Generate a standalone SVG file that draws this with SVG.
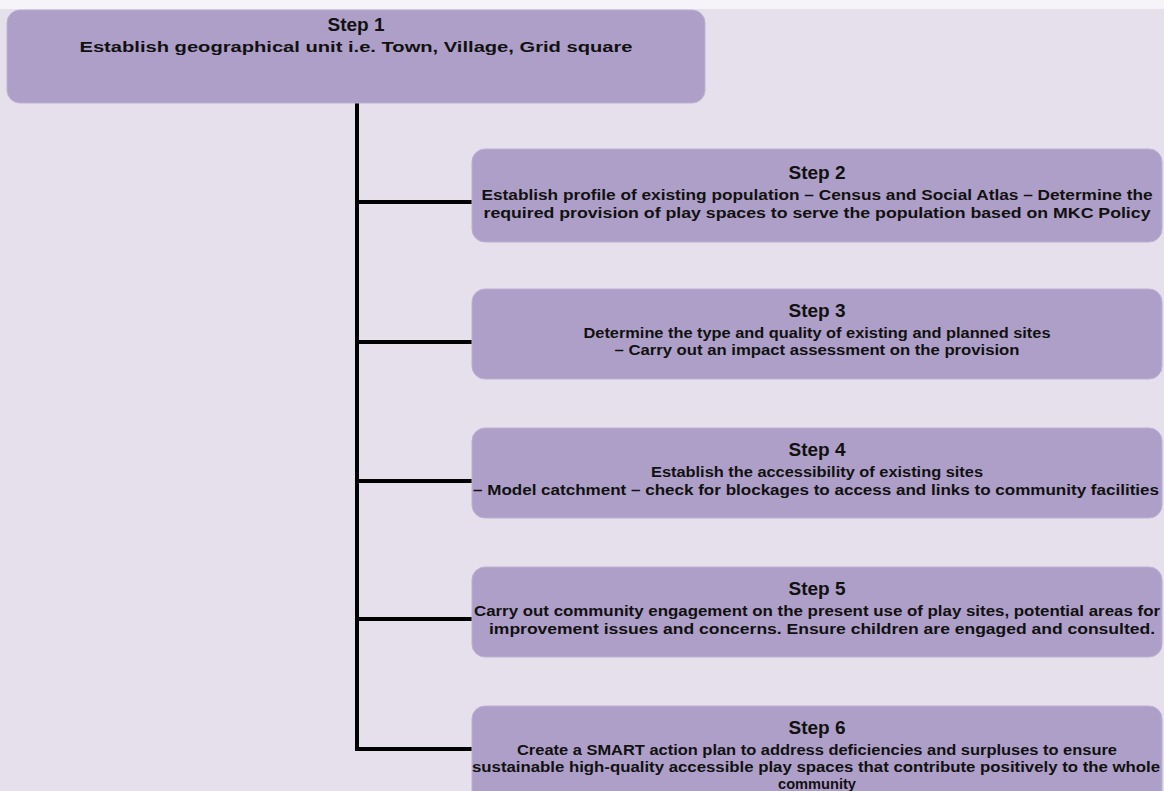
<svg xmlns="http://www.w3.org/2000/svg" width="1164" height="791" viewBox="0 0 1164 791">
<style>
.box{fill:#ae9fc8;stroke:#bcb0d2;stroke-width:1}
.t{font-family:"Liberation Sans",Arial,sans-serif;font-weight:bold;font-size:19px;fill:#111;text-anchor:middle}
.b{font-family:"Liberation Sans",Arial,sans-serif;font-weight:bold;font-size:14px;fill:#111;text-anchor:middle}
.c{fill:none;stroke:#000;stroke-width:4}
</style>
<rect x="0" y="0" width="1164" height="791" fill="#e5e0ec"/>
<rect x="0" y="0" width="1164" height="9" fill="#f6f4f8"/>
<g id="connectors">
<path class="c" d="M357 102 V751"/>
<path class="c" d="M355 202 H473"/>
<path class="c" d="M355 342 H473"/>
<path class="c" d="M355 481 H473"/>
<path class="c" d="M355 619 H473"/>
<path class="c" d="M355 749 H473"/>
</g>
<g id="step1">
<rect class="box" x="7" y="10" width="698" height="93" rx="13"/>
<text class="t" x="356" y="31">Step 1</text>
<text class="b" x="356" y="52" font-size="16" textLength="553" lengthAdjust="spacingAndGlyphs">Establish geographical unit i.e. Town, Village, Grid square</text>
</g>
<g id="step2">
<rect class="box" x="472" y="149" width="690" height="93" rx="13"/>
<text class="t" x="817" y="179">Step 2</text>
<text class="b" x="817" y="200" textLength="671" lengthAdjust="spacingAndGlyphs">Establish profile of existing population – Census and Social Atlas – Determine the</text>
<text class="b" x="817" y="218" textLength="667" lengthAdjust="spacingAndGlyphs">required provision of play spaces to serve the population based on MKC Policy</text>
</g>
<g id="step3">
<rect class="box" x="472" y="289" width="690" height="90" rx="13"/>
<text class="t" x="817" y="317">Step 3</text>
<text class="b" x="817" y="338" textLength="467" lengthAdjust="spacingAndGlyphs">Determine the type and quality of existing and planned sites</text>
<text class="b" x="817" y="355" textLength="405" lengthAdjust="spacingAndGlyphs">– Carry out an impact assessment on the provision</text>
</g>
<g id="step4">
<rect class="box" x="472" y="428" width="690" height="90" rx="13"/>
<text class="t" x="817" y="456">Step 4</text>
<text class="b" x="817" y="477" textLength="332" lengthAdjust="spacingAndGlyphs">Establish the accessibility of existing sites</text>
<text class="b" x="816" y="495" textLength="686" lengthAdjust="spacingAndGlyphs">– Model catchment – check for blockages to access and links to community facilities</text>
</g>
<g id="step5">
<rect class="box" x="472" y="567" width="690" height="90" rx="13"/>
<text class="t" x="817" y="595">Step 5</text>
<text class="b" x="817" y="616" textLength="686" lengthAdjust="spacingAndGlyphs">Carry out community engagement on the present use of play sites, potential areas for</text>
<text class="b" x="822" y="634" textLength="666" lengthAdjust="spacingAndGlyphs">improvement issues and concerns. Ensure children are engaged and consulted.</text>
</g>
<g id="step6">
<rect class="box" x="472" y="706" width="690" height="100" rx="13"/>
<text class="t" x="817" y="734">Step 6</text>
<text class="b" x="817" y="755" textLength="600" lengthAdjust="spacingAndGlyphs">Create a SMART action plan to address deficiencies and surpluses to ensure</text>
<text class="b" x="816" y="772" textLength="688" lengthAdjust="spacingAndGlyphs">sustainable high-quality accessible play spaces that contribute positively to the whole</text>
<text class="b" x="817" y="789" textLength="78" lengthAdjust="spacingAndGlyphs">community</text>
</g>
</svg>
